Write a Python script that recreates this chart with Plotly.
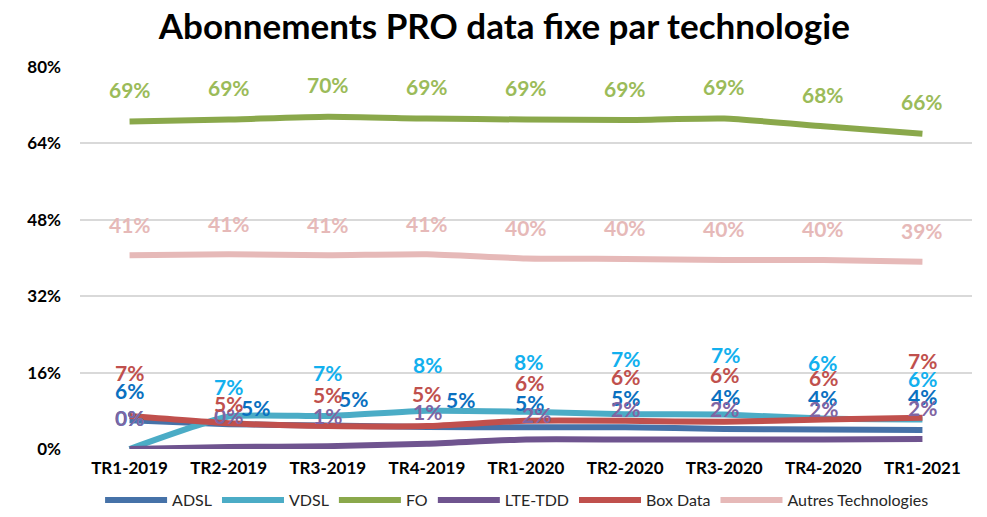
import plotly.graph_objects as go

# Quarters on the category axis
quarters = ["TR1-2019", "TR2-2019", "TR3-2019", "TR4-2019", "TR1-2020",
            "TR2-2020", "TR3-2020", "TR4-2020", "TR1-2021"]

# Share of PRO fixed-data subscriptions per technology (%)
adsl = [6.0, 5.2, 4.9, 4.6, 4.55, 4.55, 4.2, 4.1, 4.0]
vdsl = [0.0, 6.8, 6.9, 8.0, 7.8, 7.3, 7.2, 6.4, 6.2]
fo = [68.6, 69.0, 69.6, 69.2, 69.0, 68.9, 69.2, 67.6, 66.0]
lte_tdd = [0.0, 0.4, 0.6, 1.1, 2.0, 2.0, 2.0, 2.0, 2.1]
box_data = [6.9, 5.4, 4.8, 4.8, 5.9, 5.9, 5.7, 6.2, 6.55]
autres = [40.6, 40.8, 40.6, 40.8, 39.9, 39.8, 39.6, 39.6, 39.2]

y_ticks = [0, 16, 32, 48, 64, 80]

FONT = "Lato"

# name, values, line colour, label colour, label offsets (dx, dy) in px
series = [
    ("ADSL", adsl, "#4672A8", "#0A70C0",
     [(0, 30), (27, 17), (26, 27), (34, 28), (3, 25), (0, 30), (1, 32), (-1, 32), (0, 33)]),
    ("VDSL", vdsl, "#4BACC6", "#12B0EE",
     [(0, 32), (0, 30), (0, 44), (1, 46), (2, 50), (0, 56), (1, 60), (-1, 56), (0, 41)]),
    ("FO", fo, "#8AA84B", "#9BBB59",
     [(0, 32)] * 9),
    ("LTE-TDD", lte_tdd, "#6F548F", "#8064A2",
     [(0, 32), (0, 32), (0, 31), (1, 32), (10, 25), (0, 31), (0, 31), (0, 31), (0, 31)]),
    ("Box Data", box_data, "#C0504D", "#C0504D",
     [(0, 44), (0, 20), (0, 32), (0, 33), (3, 38), (0, 44), (0, 47), (0, 42), (0, 57)]),
    ("Autres Technologies", autres, "#E6B9B8", "#E6B9B8",
     [(0, 31)] * 9),
]

fig = go.Figure()
annotations = []
for name, values, line_color, label_color, offsets in series:
    fig.add_trace(go.Scatter(
        x=quarters, y=values, name=name, mode="lines",
        line=dict(color=line_color, width=6, shape="spline", smoothing=0.5),
        hoverinfo="skip",
    ))
    for q, v, (dx, dy) in zip(quarters, values, offsets):
        annotations.append(dict(
            x=q, y=v, xref="x", yref="y", text=f"<b>{v:.0f}%</b>",
            showarrow=False, xshift=dx, yshift=dy,
            font=dict(family=FONT, size=21, color=label_color),
        ))

# Paper spans y = 67..517 px; plot area is 67..449 px, the rest holds
# the category labels and the legend.
fig.update_layout(
    width=987, height=517,
    margin=dict(l=80, r=15, t=67, b=0),
    paper_bgcolor="white", plot_bgcolor="white",
    title=dict(text="<b>Abonnements PRO data fixe par technologie</b>",
               x=0.511, xanchor="center", y=0.948, yanchor="middle",
               font=dict(family=FONT, size=35, color="black")),
    xaxis=dict(
        type="category", range=[-0.5, 8.5],
        showgrid=False, showline=False, zeroline=False, ticks="",
        tickfont=dict(family=FONT, size=17, color="black", weight="bold"),
        ticklabelstandoff=7, automargin=False,
    ),
    yaxis=dict(
        range=[0, 80], tickvals=y_ticks, domain=[68 / 450, 1],
        ticktext=[f"{t}%" for t in y_ticks],
        showgrid=True, gridcolor="#D9D9D9", gridwidth=1.5,
        zeroline=False, showline=False, ticks="",
        tickfont=dict(family=FONT, size=17, color="black", weight="bold"),
        ticklabelstandoff=18, automargin=False,
    ),
    legend=dict(
        orientation="h", x=0.49, xanchor="center", y=0, yanchor="bottom",
        font=dict(family=FONT, size=16, color="#262626"),
        itemwidth=62,
    ),
    annotations=annotations,
    showlegend=True,
)

fig.write_html("out.html")
